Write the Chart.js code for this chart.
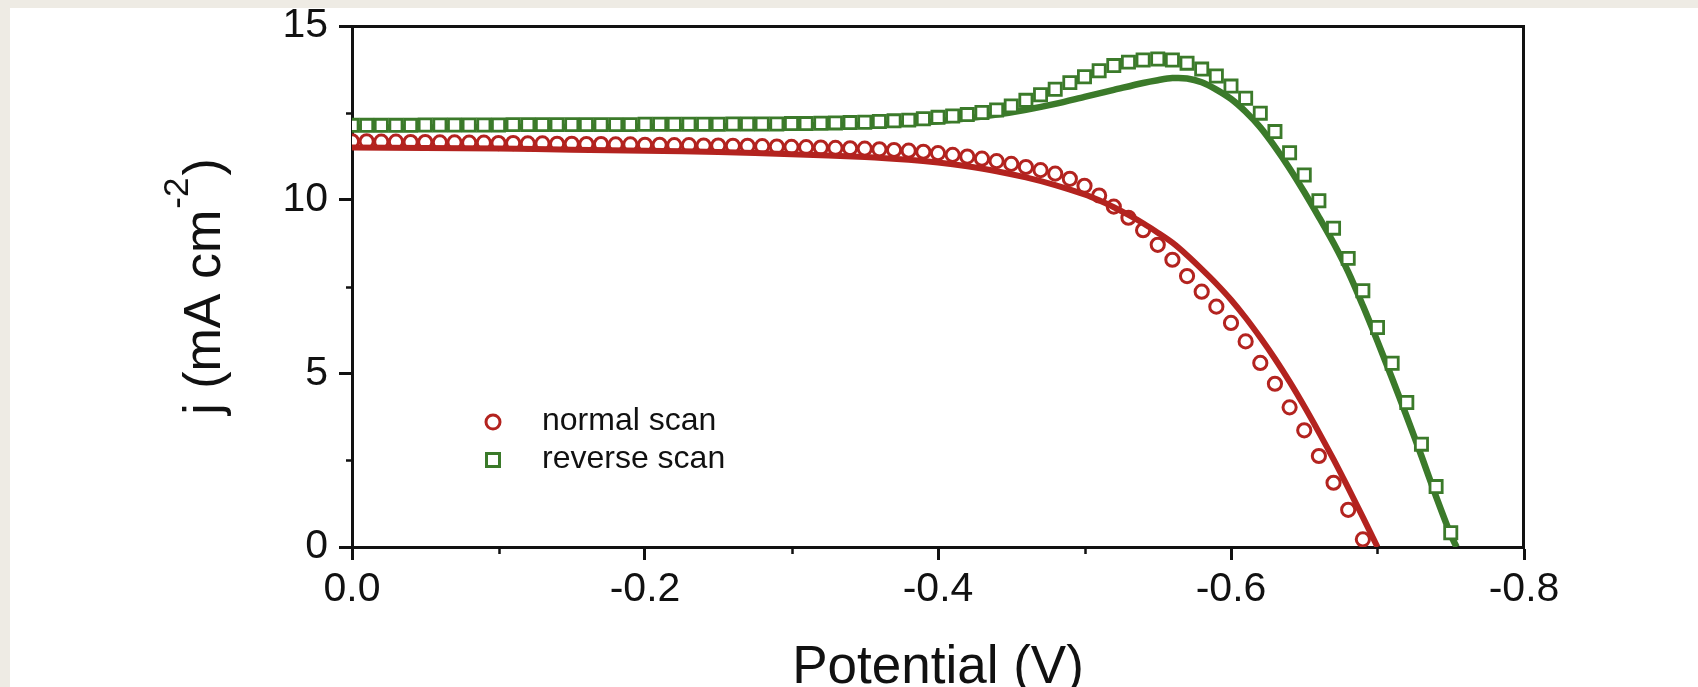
<!DOCTYPE html>
<html><head><meta charset="utf-8">
<script src="https://cdn.jsdelivr.net/npm/chart.js@4.4.1/dist/chart.umd.min.js"></script>
<style>
html,body{margin:0;padding:0;width:1698px;height:687px;overflow:hidden;background:#eeebe4;}
#paper{position:absolute;left:10px;top:8px;width:1688px;height:679px;background:#ffffff;}
#wrap{position:absolute;left:0;top:0;width:1698px;height:687px;}
</style></head><body>
<div id="paper"></div>
<div id="wrap"><canvas id="c" width="1698" height="687"></canvas></div>
<script>
// ---------- data ----------
const seriesLabels = ['normal scan', 'reverse scan'];

const normalV = [0,-0.01,-0.02,-0.03,-0.04,-0.05,-0.06,-0.07,-0.08,-0.09,
  -0.10,-0.11,-0.12,-0.13,-0.14,-0.15,-0.16,-0.17,-0.18,-0.19,
  -0.20,-0.21,-0.22,-0.23,-0.24,-0.25,-0.26,-0.27,-0.28,-0.29,
  -0.30,-0.31,-0.32,-0.33,-0.34,-0.35,-0.36,-0.37,-0.38,-0.39,
  -0.40,-0.41,-0.42,-0.43,-0.44,-0.45,-0.46,-0.47,-0.48,-0.49,
  -0.50,-0.51,-0.52,-0.53,-0.54,-0.55,-0.56,-0.57,-0.58,-0.59,
  -0.60,-0.61,-0.62,-0.63,-0.64,-0.65,-0.66,-0.67,-0.68,-0.69];
const normalJ = [11.68,11.68,11.67,11.67,11.66,11.66,11.65,11.65,11.64,11.64,
  11.63,11.63,11.62,11.62,11.61,11.61,11.60,11.60,11.59,11.59,
  11.58,11.58,11.57,11.57,11.56,11.56,11.55,11.55,11.54,11.53,
  11.52,11.51,11.50,11.49,11.48,11.47,11.45,11.43,11.41,11.38,
  11.34,11.29,11.24,11.18,11.11,11.03,10.94,10.85,10.75,10.60,
  10.40,10.12,9.80,9.48,9.12,8.70,8.27,7.80,7.35,6.92,
  6.45,5.92,5.30,4.70,4.02,3.36,2.62,1.85,1.07,0.22];

const normalFitV = [0,-0.05,-0.10,-0.15,-0.20,-0.25,-0.30,-0.35,-0.38,-0.40,
  -0.42,-0.44,-0.46,-0.48,-0.50,-0.51,-0.52,-0.53,-0.54,-0.55,
  -0.56,-0.57,-0.58,-0.59,-0.60,-0.61,-0.62,-0.63,-0.64,-0.65,
  -0.66,-0.67,-0.68,-0.69,-0.70];
const normalFitJ = [11.50,11.49,11.47,11.44,11.41,11.37,11.31,11.23,11.15,11.07,
  10.96,10.82,10.64,10.42,10.15,9.98,9.78,9.56,9.32,9.05,
  8.76,8.40,8.00,7.58,7.12,6.60,6.03,5.42,4.76,4.05,
  3.30,2.52,1.70,0.86,0];

const reverseV = [0,-0.01,-0.02,-0.03,-0.04,-0.05,-0.06,-0.07,-0.08,-0.09,
  -0.10,-0.11,-0.12,-0.13,-0.14,-0.15,-0.16,-0.17,-0.18,-0.19,
  -0.20,-0.21,-0.22,-0.23,-0.24,-0.25,-0.26,-0.27,-0.28,-0.29,
  -0.30,-0.31,-0.32,-0.33,-0.34,-0.35,-0.36,-0.37,-0.38,-0.39,
  -0.40,-0.41,-0.42,-0.43,-0.44,-0.45,-0.46,-0.47,-0.48,-0.49,
  -0.50,-0.51,-0.52,-0.53,-0.54,-0.55,-0.56,-0.57,-0.58,-0.59,
  -0.60,-0.61,-0.62,-0.63,-0.64,-0.65,-0.66,-0.67,-0.68,-0.69,
  -0.70,-0.71,-0.72,-0.73,-0.74,-0.75];
const reverseJ = [12.14,12.14,12.14,12.14,12.14,12.15,12.15,12.15,12.15,12.15,
  12.15,12.16,12.16,12.16,12.16,12.16,12.16,12.16,12.16,12.16,
  12.17,12.17,12.17,12.17,12.17,12.17,12.18,12.18,12.18,12.18,
  12.19,12.19,12.20,12.21,12.22,12.23,12.25,12.27,12.29,12.33,
  12.37,12.41,12.45,12.51,12.58,12.70,12.86,13.02,13.18,13.37,
  13.54,13.71,13.86,13.96,14.02,14.05,14.02,13.93,13.76,13.56,
  13.27,12.92,12.49,11.96,11.35,10.71,9.97,9.18,8.31,7.38,
  6.32,5.29,4.16,2.96,1.74,0.41];

const reverseFitV = [0,-0.05,-0.10,-0.15,-0.20,-0.25,-0.30,-0.34,-0.36,-0.38,
  -0.40,-0.42,-0.44,-0.46,-0.48,-0.50,-0.52,-0.54,-0.55,-0.56,
  -0.57,-0.58,-0.59,-0.60,-0.61,-0.62,-0.63,-0.64,-0.65,-0.66,
  -0.67,-0.68,-0.69,-0.70,-0.71,-0.72,-0.73,-0.74,-0.75,-0.754];
const reverseFitJ = [12.08,12.08,12.09,12.09,12.10,12.11,12.13,12.15,12.17,12.20,
  12.26,12.34,12.45,12.59,12.76,12.96,13.16,13.36,13.44,13.50,
  13.49,13.38,13.17,12.90,12.53,12.08,11.52,10.90,10.22,9.50,
  8.75,7.92,6.95,5.92,4.85,3.75,2.62,1.45,0.35,0];

const xTicks = [0, -0.2, -0.4, -0.6, -0.8];
const xTickLabels = ['0.0', '-0.2', '-0.4', '-0.6', '-0.8'];
const xMinorTicks = [-0.1, -0.3, -0.5, -0.7];
const yTicks = [0, 5, 10, 15];
const yTickLabels = ['0', '5', '10', '15'];
const yMinorTicks = [2.5, 7.5, 12.5];
const xTitle = 'Potential (V)';
const yTitleMain = 'j (mA cm';
const yTitleSup = '-2';
const yTitleEnd = ')';

// ---------- style ----------
const FONT = '"Liberation Sans", Arial, Helvetica, sans-serif';
const RED = '#b3231f';
const GREEN = '#3b7a2a';
const INK = '#111111';

const pts = (xs, ys) => xs.map((x, i) => ({x: x, y: ys[i]}));

const framePlugin = {
  id: 'frame',
  afterDraw(chart) {
    const {ctx, chartArea: ca, scales} = chart;
    ctx.save();
    ctx.strokeStyle = INK;
    ctx.lineCap = 'square';
    ctx.lineWidth = 3;
    ctx.beginPath();
    ctx.moveTo(ca.left, ca.top + 0.5);
    ctx.lineTo(ca.right - 0.5, ca.top + 0.5);
    ctx.lineTo(ca.right - 0.5, ca.bottom);
    ctx.stroke();
    // minor ticks
    ctx.lineWidth = 2.5;
    ctx.lineCap = 'butt';
    ctx.beginPath();
    xMinorTicks.forEach(v => {
      const px = Math.round(scales.x.getPixelForValue(v)) + 0.5;
      ctx.moveTo(px, ca.bottom); ctx.lineTo(px, ca.bottom + 7);
    });
    yMinorTicks.forEach(v => {
      const py = Math.round(scales.y.getPixelForValue(v)) + 0.5;
      ctx.moveTo(ca.left - 6, py); ctx.lineTo(ca.left, py);
    });
    ctx.stroke();
    ctx.restore();
  }
};

const yTitlePlugin = {
  id: 'ytitle',
  afterDraw(chart) {
    const {ctx, chartArea: ca} = chart;
    ctx.save();
    ctx.fillStyle = INK;
    ctx.translate(220, (ca.top + ca.bottom) / 2);
    ctx.rotate(-Math.PI / 2);
    ctx.textBaseline = 'alphabetic';
    ctx.textAlign = 'left';
    const big = '52px ' + FONT, small = '35px ' + FONT;
    ctx.font = big; const w1 = ctx.measureText(yTitleMain).width; const w3 = ctx.measureText(yTitleEnd).width;
    ctx.font = small; const w2 = ctx.measureText(yTitleSup).width;
    const total = w1 + w2 + w3 + 3;
    let x0 = -total / 2;
    ctx.font = big; ctx.fillText(yTitleMain, x0, 0);
    ctx.font = small; ctx.fillText(yTitleSup, x0 + w1 + 1, -32);
    ctx.font = big; ctx.fillText(yTitleEnd, x0 + w1 + w2 + 3, 0);
    ctx.restore();
  }
};

const legendPlugin = {
  id: 'insideLegend',
  afterDraw(chart) {
    const {ctx, chartArea: ca} = chart;
    const items = [0, 2];
    ctx.save();
    items.forEach((di, k) => {
      const ds = chart.data.datasets[di];
      const mx = ca.left + 141, my = ca.top + 396 + k * 38;
      ctx.strokeStyle = ds.borderColor;
      ctx.lineWidth = 3;
      ctx.beginPath();
      if (ds.pointStyle === 'rect') {
        ctx.rect(mx - 6.5, my - 6.5, 13, 13);
      } else {
        ctx.arc(mx, my, 7, 0, Math.PI * 2);
      }
      ctx.stroke();
      ctx.fillStyle = INK;
      ctx.font = '32px ' + FONT;
      ctx.textBaseline = 'alphabetic';
      ctx.textAlign = 'left';
      ctx.fillText(ds.label, ca.left + 190, my + 8);
    });
    ctx.restore();
  }
};

Chart.defaults.font.family = FONT;
Chart.defaults.color = INK;

new Chart(document.getElementById('c'), {
  type: 'scatter',
  data: {
    datasets: [
      {
        label: seriesLabels[0], data: pts(normalV, normalJ), order: 4,
        pointStyle: 'circle', pointRadius: 6.6, pointBorderWidth: 3,
        borderColor: RED, pointBorderColor: RED, pointBackgroundColor: '#ffffff',
        showLine: false
      },
      {
        label: seriesLabels[0] + ' fit', type: 'line', data: pts(normalFitV, normalFitJ), order: 3,
        borderColor: RED, borderWidth: 6, pointRadius: 0, tension: 0.3, fill: false
      },
      {
        label: seriesLabels[1], data: pts(reverseV, reverseJ), order: 1,
        pointStyle: 'rect', pointRadius: 8.6, pointBorderWidth: 2.8,
        borderColor: GREEN, pointBorderColor: GREEN, pointBackgroundColor: '#ffffff',
        showLine: false
      },
      {
        label: seriesLabels[1] + ' fit', type: 'line', data: pts(reverseFitV, reverseFitJ), order: 2,
        borderColor: GREEN, borderWidth: 6.5, pointRadius: 0, tension: 0.3, fill: false
      }
    ]
  },
  options: {
    responsive: false,
    animation: false,
    devicePixelRatio: 1,
    events: [],
    layout: { padding: { left: 0, top: 26, right: 174, bottom: 0 } },
    plugins: { legend: { display: false }, tooltip: { enabled: false } },
    scales: {
      x: {
        type: 'linear', position: 'bottom', min: -0.8, max: 0, reverse: true,
        afterBuildTicks: s => { s.ticks = xTicks.map(v => ({value: v})); },
        afterFit: s => { s.height = 140; s.paddingLeft = 0; s.paddingRight = 0; },
        ticks: {
          autoSkip: false, maxRotation: 0, padding: 5,
          font: { size: 41, lineHeight: 1.2 }, color: INK,
          callback: (v, i) => xTickLabels[i]
        },
        grid: { display: true, drawOnChartArea: false, drawTicks: true, tickLength: 13, tickWidth: 3, tickColor: INK },
        border: { display: true, color: INK, width: 3 },
        title: { display: true, text: xTitle, color: INK, font: { size: 53, lineHeight: 0.7 }, padding: { top: 0, bottom: 0 } }
      },
      y: {
        type: 'linear', position: 'left', min: 0, max: 15,
        afterBuildTicks: s => { s.ticks = yTicks.map(v => ({value: v})); },
        afterFit: s => { s.width = 352; s.paddingTop = 0; s.paddingBottom = 0; },
        ticks: {
          autoSkip: false, padding: 11,
          font: { size: 41, lineHeight: 1.2 }, color: INK,
          callback: (v, i) => yTickLabels[i]
        },
        grid: { display: true, drawOnChartArea: false, drawTicks: true, tickLength: 13, tickWidth: 3, tickColor: INK },
        border: { display: true, color: INK, width: 3 }
      }
    }
  },
  plugins: [framePlugin, yTitlePlugin, legendPlugin]
});
</script>
</body></html>
